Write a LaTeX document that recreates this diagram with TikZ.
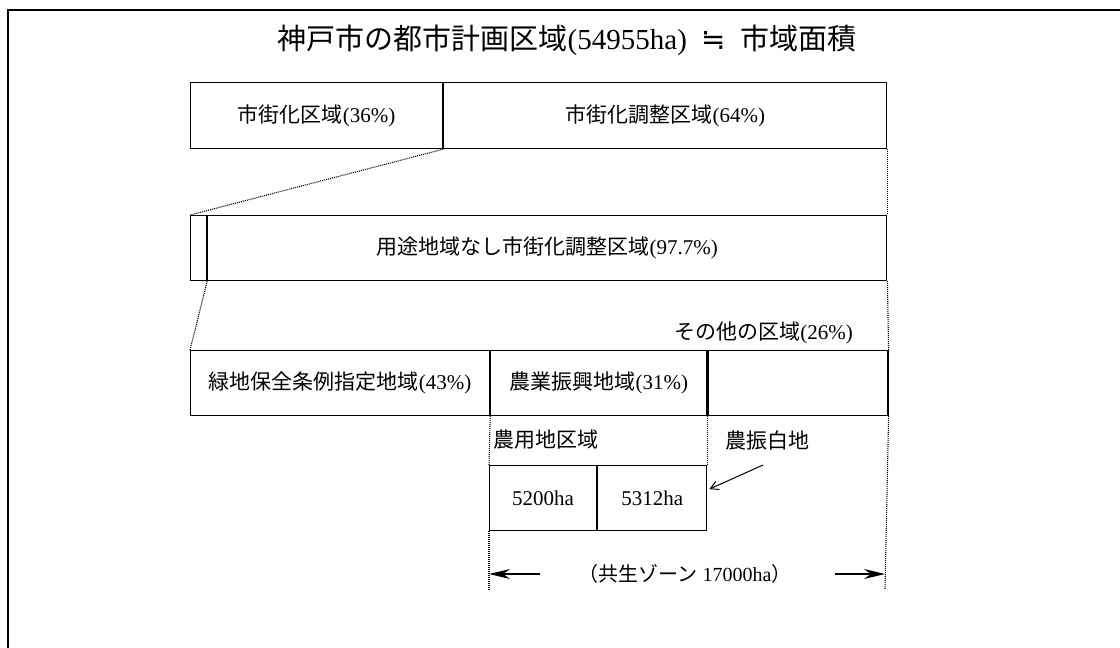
\documentclass[tikz,border=0pt]{standalone}
\usepackage{fontspec}
\setmainfont{Liberation Serif}
\newfontfamily\jp{Noto Sans CJK JP}
\newfontfamily\symb{DejaVu Sans}
\usetikzlibrary{arrows.meta}
\tikzset{
	cell/.style={draw, line width=1.2pt, inner sep=0pt, anchor=north west,
			font=\fontsize{21}{21}\selectfont},
	guide/.style={line width=1.1pt, dash pattern=on 1pt off 1pt},
	lbl/.style={inner sep=0pt, font=\fontsize{21}{21}\selectfont},
	dimarrow/.style={line width=1.3pt, -{Stealth[length=21pt,width=10pt]}}
}

\begin{document}
\begin{tikzpicture}[x=1pt,y=-1pt]
		\useasboundingbox (0,0) rectangle (1120,648);
		\draw[line width=2.6pt] (8,648) -- (8,10) -- (1120,10);
		\node[font=\fontsize{29}{29}\selectfont] (title) at (567,40) {{\jp 神戸市の都市計画区域}(54955ha)\enspace{\symb ≒}\enspace{\jp 市域面積}};
		% row 1
		\node[cell, minimum width=252pt, minimum height=66pt] (shi) at (190,82) {{\jp 市街化区域}(36\%)};
		\node[cell, minimum width=443pt, minimum height=66pt] (chosei) at (shi.north east) {{\jp 市街化調整区域}(64\%)};
		% row 2
		\node[cell, minimum width=16pt, minimum height=65pt] (yoto) at (190,215) {};
		\node[cell, minimum width=679pt, minimum height=65pt] (nashi) at (yoto.north east) {{\jp 用途地域なし市街化調整区域}(97.7\%)};
		% row 3
		\node[lbl, anchor=east] (sonotalbl) at (853,333) {{\jp その他の区域}(26\%)};
		\node[cell, minimum width=299pt, minimum height=65pt] (ryokuchi) at (190,350) {{\jp 緑地保全条例指定地域}(43\%)};
		\node[cell, minimum width=216pt, minimum height=65pt] (noshin) at (ryokuchi.north east) {{\jp 農業振興地域}(31\%)};
		\node[cell, minimum width=180pt, minimum height=65pt] (sonota) at (noshin.north east) {};
		% row 4
		\node[lbl, anchor=west] (noyolbl) at (493,440) {\jp 農用地区域};
		\node[lbl] (hakuchi) at (767,440) {\jp 農振白地};
		\node[cell, minimum width=107pt, minimum height=65pt] (nou1) at (489,465) {5200ha};
		\node[cell, minimum width=109pt, minimum height=65pt] (nou2) at (nou1.north east) {5312ha};
		% guide lines
		\coordinate (ltick) at (489,590);
		\coordinate (rtick) at (885,590);
		\draw[guide] (shi.south east) -- (yoto.north west);
		\draw[guide] (yoto.south east) -- (ryokuchi.north west);
		\draw[guide] (chosei.south east) -- (nashi.north east);
		\draw[guide] (nashi.south east) -- (sonota.north east);
		\draw[guide] (sonota.south east) -- (rtick);
		\draw[guide] (noshin.south west) -- (nou1.north west);
		\draw[guide] (nou1.south west) -- (ltick);
		\draw[guide] (noshin.south east) -- (nou2.north east);
		% arrows
		\coordinate (hakuchitail) at (763,465);
		\draw[line width=1pt, -{Straight Barb[length=8pt,width=9pt]}] (hakuchitail) -- ([xshift=2pt,yshift=9pt]nou2.east);
		\node[lbl, font=\fontsize{20}{20}\selectfont] (kyosei) at (685,574) {{\jp （共生ゾーン} 17000ha{\jp ）}};
		\coordinate (dl) at (489,574);
		\coordinate (dr) at (885,574);
		\draw[dimarrow] (540,574) -- (dl);
		\draw[dimarrow] (835,574) -- (dr);
	\end{tikzpicture}
\end{document}
